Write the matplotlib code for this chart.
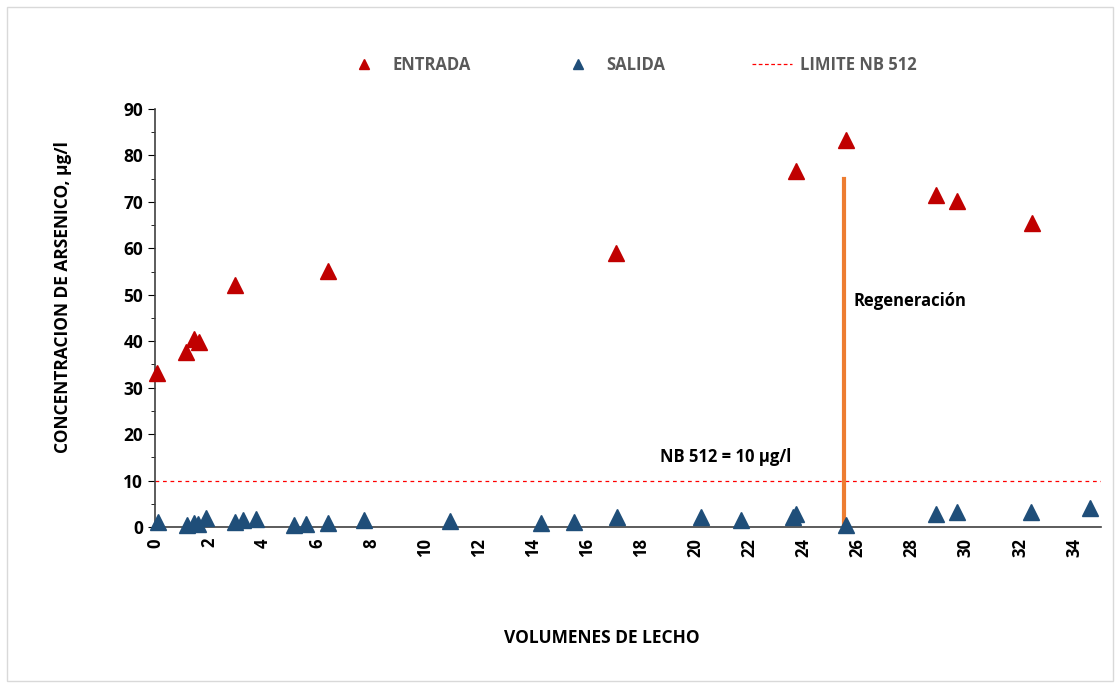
import matplotlib
matplotlib.use("Agg")
import matplotlib.pyplot as plt
from matplotlib.lines import Line2D
from matplotlib.patches import Rectangle

plt.rcParams["font.family"] = ["Open Sans", "DejaVu Sans"]

# bed volumes vs arsenic concentration (ug/l)
entrada_x = [0.07, 1.15, 1.44, 1.63, 2.96, 6.4, 17.07, 23.7, 25.56, 28.9, 29.67, 32.44]
entrada_y = [33.2, 37.7, 40.5, 39.8, 52.1, 55.1, 59.0, 76.7, 83.3, 71.5, 70.2, 65.5]

salida_x = [0.1, 1.2, 1.44, 1.6, 1.9, 2.96, 3.26, 3.74, 5.15, 5.6, 6.4, 7.74,
            10.9, 14.3, 15.5, 17.1, 20.2, 21.7, 23.6, 23.7, 25.56, 28.9, 29.67, 32.4, 34.6]
salida_y = [1.1, 0.5, 0.9, 0.7, 1.9, 1.1, 1.5, 1.7, 0.4, 0.7, 0.9, 1.5,
            1.3, 0.9, 1.1, 2.2, 2.2, 1.5, 2.2, 2.8, 0.4, 2.8, 3.2, 3.2, 4.1]

limite_nb512 = 10
regen_x = 25.5
regen_top = 75

RED = "#C00000"
BLUE = "#1F4E79"
ORANGE = "#ED7D31"

fig = plt.figure(figsize=(11.2, 6.86), dpi=100)
fig.patches.append(Rectangle((0.006, 0.008), 0.988, 0.982, transform=fig.transFigure,
                             fill=False, edgecolor="#d9d9d9", linewidth=1.0))
ax = fig.add_axes([0.1384, 0.2318, 0.8446, 0.6093])

ax.plot(entrada_x, entrada_y, linestyle="none", marker="^", markersize=11,
        color=RED, zorder=3, clip_on=False)
ax.plot(salida_x, salida_y, linestyle="none", marker="^", markersize=11,
        color=BLUE, zorder=3, clip_on=False)
ax.axhline(limite_nb512, color="#FF0000", linestyle=(0, (3, 3)), linewidth=0.9, zorder=1)
ax.plot([regen_x, regen_x], [0, regen_top], color=ORANGE, linewidth=3, zorder=2)

ax.text(18.7, 14, "NB 512 = 10 µg/l", fontsize=12, fontweight="bold", color="black")
ax.text(25.85, 47.5, "Regeneración", fontsize=12, fontweight="bold", color="black")

ax.set_xlim(0, 35)
ax.set_ylim(0, 90)
ax.set_xticks(range(0, 35, 2))
ax.set_yticks(range(0, 91, 10))
ax.set_yticks(range(5, 90, 10), minor=True)
ax.tick_params(axis="x", length=0, pad=8, labelrotation=90, labelsize=12)
ax.tick_params(axis="y", which="major", length=5, direction="out", labelsize=12.5)
ax.tick_params(axis="y", which="minor", length=3, direction="out")
for lab in ax.get_xticklabels() + ax.get_yticklabels():
    lab.set_fontweight("bold")

for side in ("top", "right"):
    ax.spines[side].set_visible(False)
for side in ("left", "bottom"):
    ax.spines[side].set_color("#404040")
    ax.spines[side].set_linewidth(1.2)

ax.set_xlabel("VOLUMENES DE LECHO", fontsize=12.5, fontweight="bold")
ax.set_ylabel("CONCENTRACION DE ARSENICO, µg/l", fontsize=12.5, fontweight="bold")
ax.xaxis.set_label_coords(0.4725, -0.245)
ax.yaxis.set_label_coords(-0.088, 0.55)

handles = [
    Line2D([], [], linestyle="none", marker="^", markersize=7, color=RED),
    Line2D([], [], linestyle="none", marker="^", markersize=7, color=BLUE),
    Line2D([], [], color="#FF0000", linestyle=(0, (3, 2)), linewidth=0.9),
]
leg = fig.legend(handles, ["ENTRADA", "SALIDA", "LIMITE NB 512"], ncol=3,
                 loc="center", bbox_to_anchor=(0.563, 0.905), frameon=False,
                 handlelength=2.4, columnspacing=5.2, handletextpad=0.5,
                 prop={"size": 12, "weight": "bold"})
for t in leg.get_texts():
    t.set_color("#595959")

fig.savefig("out.png", dpi=100)
